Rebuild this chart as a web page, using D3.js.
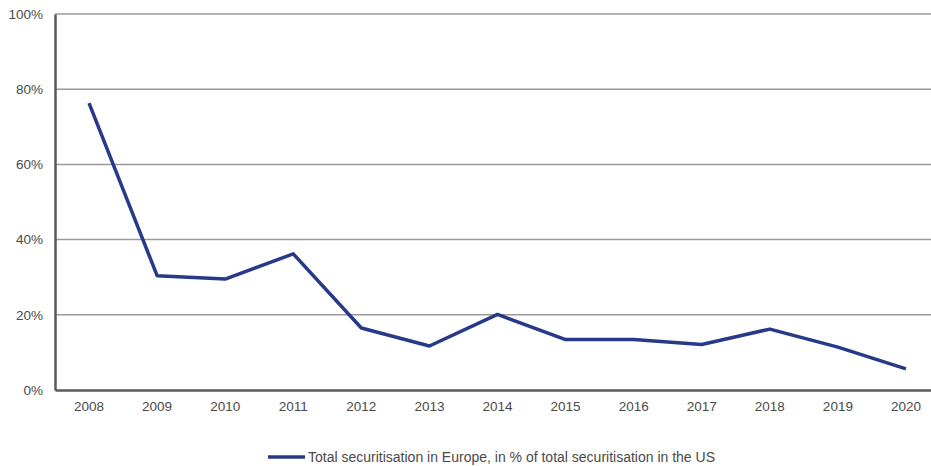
<!DOCTYPE html>
<html>
<head>
<meta charset="utf-8">
<script src="https://d3js.org/d3.v7.min.js"></script>
<style>
  body { margin: 0; background: #fff; }
  svg text { font-family: 'Liberation Sans', Arial, sans-serif; fill: #4a4a4a; }
</style>
</head>
<body>
<svg id="chart" width="931" height="466"></svg>
<script>
const years = ['2008', '2009', '2010', '2011', '2012', '2013', '2014', '2015', '2016', '2017', '2018', '2019', '2020'];
const shareOfUS = [76.3, 30.4, 29.5, 36.2, 16.5, 11.7, 20.1, 13.4, 13.4, 12.1, 16.2, 11.4, 5.6];
const yTicks = [0, 20, 40, 60, 80, 100];
const legendLabel = 'Total securitisation in Europe, in % of total securitisation in the US';

const margin = { top: 14, right: -9, bottom: 76, left: 55 };
const width = 931 - margin.left - margin.right;
const height = 466 - margin.top - margin.bottom;

const $svg = d3.select('#chart');
const $g = $svg.append('g').attr('transform', `translate(${margin.left},${margin.top})`);

const x = d3.scaleBand().domain(years).range([0, width]);
const y = d3.scaleLinear().domain([0, 100]).range([height, 0]);

// gridlines
$g.append('g')
  .selectAll('line')
  .data(yTicks.filter(d => d > 0))
  .join('line')
  .attr('x1', 0)
  .attr('x2', width)
  .attr('y1', d => y(d))
  .attr('y2', d => y(d))
  .attr('stroke', '#9a9a9a')
  .attr('stroke-width', 1.5);

// y axis
const axisY = d3.axisLeft(y).tickValues(yTicks).tickFormat(d => d + '%').tickSize(0).tickPadding(12);
const $ay = $g.append('g').call(axisY);
$ay.select('.domain').attr('stroke', '#5a5a5a').attr('stroke-width', 2.5);
$ay.selectAll('text').style('font-size', '13.5px').attr('fill', '#4a4a4a');

// x axis
const axisX = d3.axisBottom(x).tickSize(0).tickPadding(11);
const $ax = $g.append('g').attr('transform', `translate(0,${height})`).call(axisX);
$ax.select('.domain').attr('stroke', '#5a5a5a').attr('stroke-width', 2.5);
$ax.selectAll('text').style('font-size', '13.5px').attr('fill', '#4a4a4a');

// line
const line = d3.line()
  .x((d, i) => x(years[i]) + x.bandwidth() / 2)
  .y(d => y(d));

$g.append('path')
  .datum(shareOfUS)
  .attr('fill', 'none')
  .attr('stroke', '#273a8a')
  .attr('stroke-width', 3.5)
  .attr('stroke-linejoin', 'round')
  .attr('d', line);

// legend
const $legend = $svg.append('g').attr('transform', 'translate(268,457)');
$legend.append('line')
  .attr('x1', 0).attr('x2', 37)
  .attr('y1', 0).attr('y2', 0)
  .attr('stroke', '#273a8a')
  .attr('stroke-width', 3.5);
$legend.append('text')
  .attr('x', 40)
  .attr('y', 5)
  .style('font-size', '14px')
  .text(legendLabel);
</script>
</body>
</html>
